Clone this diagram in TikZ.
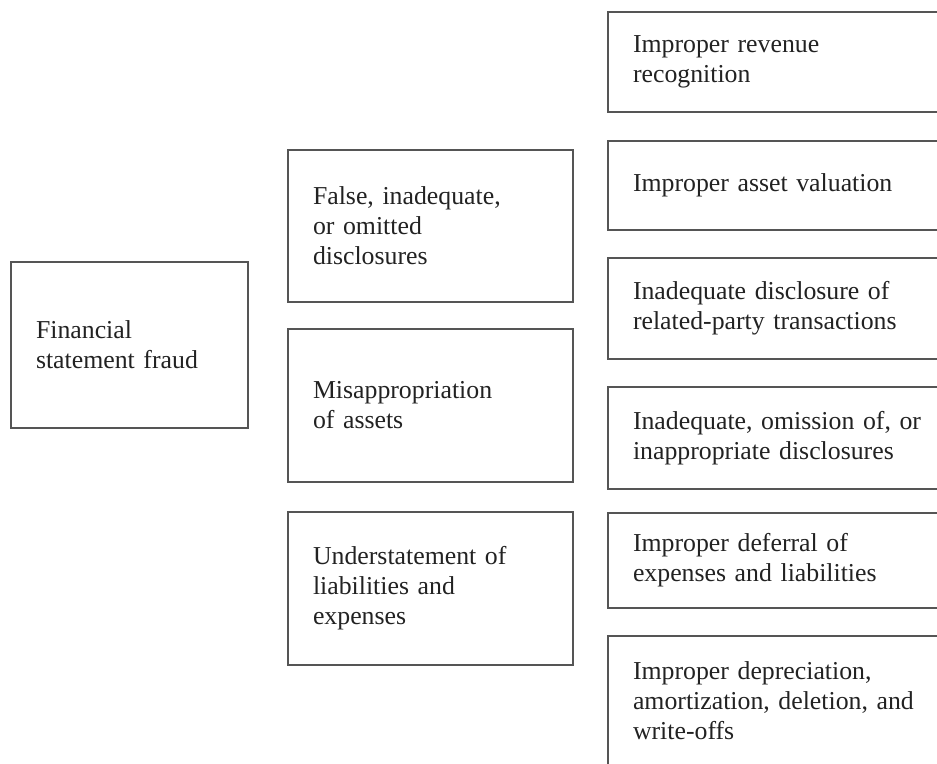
\documentclass[tikz,border=0pt]{standalone}
\usepackage{fontspec}
\setmainfont{Liberation Serif}
\begin{document}
\begin{tikzpicture}[x=1pt,y=-1pt,
  box/.style={draw=linegray, line width=1.1pt, inner xsep=25pt, inner ysep=0pt,
    align=left, text=inkblack, font=\fontsize{25.8}{30}\selectfont},
  leftbox/.style={box, minimum width=237pt, text width=187pt},
  midbox/.style={box, minimum width=285pt, text width=235pt},
  rightbox/.style={box, minimum width=372pt, text width=322pt}]
\definecolor{linegray}{HTML}{555555}
\definecolor{inkblack}{HTML}{222222}
\useasboundingbox (0,0) rectangle (937,763);
\clip (0,0) rectangle (937,763);

% root
\node[leftbox, minimum height=166pt] (root) at (129.5,345) {Financial\\statement fraud};

% categories
\node[midbox, minimum height=152pt] (c1) at (430.5,226) {False, inadequate,\\or omitted\\disclosures};
\node[midbox, minimum height=153pt] (c2) at (430.5,405.5) {Misappropriation\\of assets};
\node[midbox, minimum height=153pt] (c3) at (430.5,588.5) {Understatement of\\liabilities and\\expenses};

% schemes (running off the right edge)
\node[rightbox, minimum height=100pt] (s1) at (794,62) {Improper revenue\\recognition};
\node[rightbox, minimum height=89pt]  (s2) at (794,185.5) {Improper asset valuation};
\node[rightbox, minimum height=101pt] (s3) at (794,308.5) {Inadequate disclosure of\\related-party transactions};
\node[rightbox, minimum height=102pt] (s4) at (794,438) {Inadequate, omission of, or\\inappropriate disclosures};
\node[rightbox, minimum height=95pt]  (s5) at (794,560.5) {Improper deferral of\\expenses and liabilities};
\node[rightbox, minimum height=129pt] (s6) at (794,700.5) {Improper depreciation,\\amortization, deletion, and\\write-offs};
\end{tikzpicture}
\end{document}
